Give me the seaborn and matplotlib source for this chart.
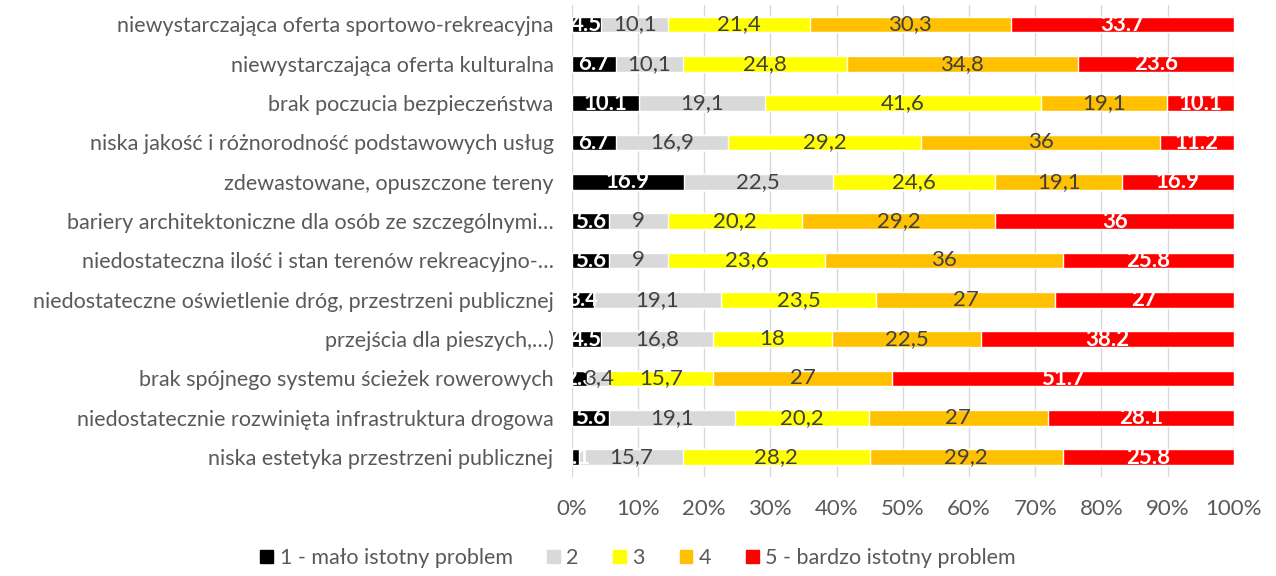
import numpy as np
import pandas as pd
import matplotlib.pyplot as plt
import seaborn as sns
from matplotlib.patches import Patch

# survey answers, % of respondents per rating
categories = [
    "niewystarczająca oferta sportowo-rekreacyjna",
    "niewystarczająca oferta kulturalna",
    "brak poczucia bezpieczeństwa",
    "niska jakość i różnorodność podstawowych usług",
    "zdewastowane, opuszczone tereny",
    "bariery architektoniczne dla osób ze szczególnymi…",
    "niedostateczna ilość i stan terenów rekreacyjno-…",
    "niedostateczne oświetlenie dróg, przestrzeni publicznej",
    "przejścia dla pieszych,…)",
    "brak spójnego systemu ścieżek rowerowych",
    "niedostatecznie rozwinięta infrastruktura drogowa",
    "niska estetyka przestrzeni publicznej",
]
r1 = [4.5, 6.7, 10.1, 6.7, 16.9, 5.6, 5.6, 3.4, 4.5, 2.3, 5.6, 1.1]
r2 = [10.1, 10.1, 19.1, 16.9, 22.5, 9, 9, 19.1, 16.8, 3.4, 19.1, 15.7]
r3 = [21.4, 24.8, 41.6, 29.2, 24.6, 20.2, 23.6, 23.5, 18, 15.7, 20.2, 28.2]
r4 = [30.3, 34.8, 19.1, 36, 19.1, 29.2, 36, 27, 22.5, 27, 27, 29.2]
r5 = [33.7, 23.6, 10.1, 11.2, 16.9, 36, 25.8, 27, 38.2, 51.7, 28.1, 25.8]
series_names = ["1 - mało istotny problem", "2", "3", "4", "5 - bardzo istotny problem"]
colors = ["#000000", "#D9D9D9", "#FFFF00", "#FFC000", "#FF0000"]

sns.set_style("white")
plt.rcParams['font.family'] = ['Lato', 'DejaVu Sans']

df = pd.DataFrame({"cat": categories, "r1": r1, "r2": r2, "r3": r3, "r4": r4, "r5": r5})
cols = ["r1", "r2", "r3", "r4", "r5"]
vals = df[cols].to_numpy()
shares = vals / vals.sum(axis=1, keepdims=True) * 100
cum = np.cumsum(shares, axis=1)

fig, ax = plt.subplots(figsize=(12.76, 5.76), dpi=100)
fig.subplots_adjust(left=0.448, right=0.967, top=0.9916, bottom=0.1724)

# stacked bars: draw cumulative totals from the outermost layer inward
for i in range(4, -1, -1):
    sns.barplot(x=cum[:, i], y=categories, color=colors[i], orient="h",
                width=0.40, ax=ax, saturation=1, zorder=3)

# data labels
for row in range(len(categories)):
    for i in range(5):
        v = vals[row, i]
        center = cum[row, i] - shares[row, i] / 2
        if i in (0, 4):
            txt = f"{v:g}"
            ax.text(center, row, txt, ha="center", va="center", color="white",
                    fontsize=16, fontweight="bold", zorder=5)
        else:
            txt = f"{v:g}".replace(".", ",")
            ax.text(center, row, txt, ha="center", va="center", color="#404040",
                    fontsize=16, zorder=5)

ax.set_xlim(0, 100)
ax.set_xticks(np.arange(0, 101, 10))
ax.set_xticklabels([f"{t}%" for t in range(0, 101, 10)])
ax.xaxis.grid(True, color="#D9D9D9", linewidth=1, zorder=0)
ax.set_axisbelow(True)
for s in ax.spines.values():
    s.set_visible(False)
ax.tick_params(axis="x", labelsize=16, colors="#595959", pad=16, length=0)
ax.tick_params(axis="y", labelsize=15.5, colors="#595959", pad=13, length=0)
ax.set_xlabel("")
ax.set_ylabel("")

handles = [Patch(color=c) for c in colors]
fig.legend(handles, series_names, loc="lower center", ncol=5, frameon=False,
           fontsize=15.5, labelcolor="#595959", handlelength=0.6, handleheight=0.6,
           handletextpad=0.3, columnspacing=1.6, bbox_to_anchor=(0.5, -0.02))

plt.savefig("out.png", dpi=100)
